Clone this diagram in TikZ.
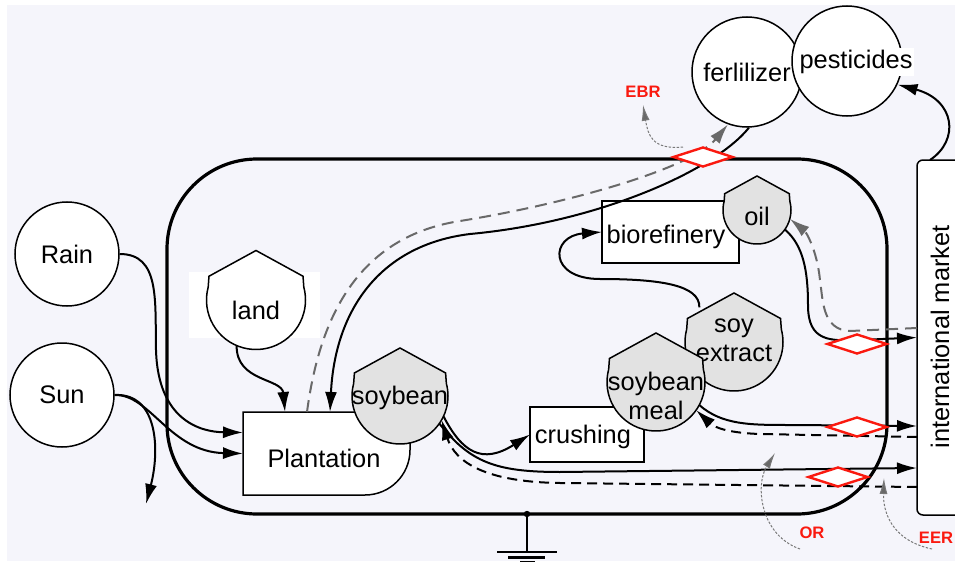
\documentclass[tikz,border=0pt]{standalone}
\usepackage{fontspec}
\setmainfont{Liberation Sans}
\usetikzlibrary{shapes,arrows.meta}
\definecolor{bgcol}{RGB}{245,245,251}
\definecolor{soygray}{RGB}{226,226,226}
\definecolor{dashgray}{RGB}{105,105,105}
\definecolor{regred}{RGB}{250,25,15}
\definecolor{hintgray}{RGB}{120,120,120}

\newcommand{\soyhouse}[6]{%
  \node[hull, minimum size=2*#3] (#1) at #2 {};
  \draw[houseline, fill=#4] ([yshift=#3]#1.center)
    -- ([xshift=-0.95*#3, yshift=0.48*#3]#1.center)
    -- (#1.165) arc[start angle=165, end angle=375, radius=#3]
    -- ([xshift=0.95*#3, yshift=0.48*#3]#1.center) -- cycle;
  \node[align=center] (#1-txt) at ([yshift=#6]#1.center) {#5};}

\begin{document}
\begin{tikzpicture}[x=0.5pt, y=-0.5pt,
    every node/.style={font=\fontsize{12.7}{14.5}\selectfont},
    ext/.style={circle, draw, fill=white, line width=0.75pt, inner sep=0pt},
    hull/.style={circle, inner sep=0pt, outer sep=0pt},
    houseline/.style={line width=0.75pt},
    procbox/.style={rectangle, draw, fill=white, line width=0.75pt, inner sep=0pt, outer sep=0pt},
    flow/.style={line width=1pt, -{Latex[length=10pt,width=6pt]}},
    cash/.style={flow, dash pattern=on 5pt off 3pt},
    greycash/.style={flow, draw=dashgray, dash pattern=on 6pt off 3.5pt},
    gate/.style={diamond, draw=regred, fill=white, line width=1.2pt, aspect=3, minimum width=30pt, minimum height=10pt, inner sep=0pt},
    tag/.style={font=\fontsize{8.3}{9}\selectfont\bfseries, text=regred},
    hint/.style={draw=hintgray, line width=0.5pt, dash pattern=on 1.2pt off 0.8pt, -{Latex[length=8pt,width=4pt,fill=dashgray]}}]
  \useasboundingbox (0,0) rectangle (955,562);
  \fill[bgcol] (7,5) rectangle (955,561);
  \draw[line width=1.6pt, rounded corners=45pt] (167,159) rectangle (887,514);
  \coordinate (gnd) at (527,514);
  \fill (gnd) circle (1.6pt);
  \draw[line width=1pt] (gnd) -- (527,552);
  \draw[line width=1.2pt] (497,552) -- (557,552) (508,557.5) -- (545,557.5) (520,562) -- (535,562);
  \fill[white] (189,272) rectangle (320,338);

  \node[ext, minimum size=52pt] (rain) at (67,254) {Rain};
  \node[ext, minimum size=52pt] (sun) at (62,395) {Sun};
  \node[ext, minimum size=55pt] (fert) at (747,72) {ferlilizer};
  \node[ext, minimum size=55pt] (pest) at (847,61) {};
  \node[fill=white, inner sep=1pt] (pest-txt) at (856,62) {pesticides};
  \node[procbox, rounded corners=3pt, minimum width=29pt, minimum height=177.5pt] (market) at (946,337.5) {};
  \node[rotate=90] (market-txt) at (940,337) {international market};

  \draw[houseline, fill=white] (243,412) -- (410,412) -- (410,450)
    arc[start angle=0, end angle=-90, radius=22.5pt] -- (243,495) -- cycle;
  \node[procbox, draw=none, fill=none, minimum width=83.5pt, minimum height=41.5pt] (plant) at (326.5,453.5) {};
  \node (plant-txt) at (324,458) {Plantation};
  \soyhouse{land}{(256,300)}{24.75pt}{white}{land}{-5pt}
  \node[procbox, minimum width=57pt, minimum height=27.5pt] (crushing) at (587,434.5) {};
  \node (crushing-txt) at (583,437) {crushing};
  \soyhouse{soybean}{(400,396)}{24pt}{soygray}{soybean}{-1pt}
  \node[procbox, minimum width=68.5pt, minimum height=31pt] (biorefinery) at (670.5,232) {};
  \node (biorefinery-txt) at (666,237) {biorefinery};
  \soyhouse{oil}{(757,210)}{17pt}{soygray}{oil}{-3pt}
  \soyhouse{extract}{(734,342)}{24.5pt}{soygray}{soy\\extract}{1pt}
  \soyhouse{meal}{(656,382)}{24.5pt}{soygray}{soybean\\meal}{-7pt}

  \coordinate (drain) at (146,504);
  \draw[flow] (rain.east) .. controls (160,254) and (155,300) .. (156,350)
    .. controls (158,420) and (200,432) .. ([yshift=10.5pt]plant.west);
  \draw[flow] (sun.east) .. controls (150,394) and (170,452) .. (plant.west);
  \draw[flow] (sun.east) .. controls (158,393) and (160,450) .. (drain);
  \draw[flow] (land.-113) .. controls (236,382) and (282,378) .. ([xshift=-20.75pt]plant.north);
  \draw[flow] (fert.-88) .. controls (715,170) and (600,222) .. (470,234)
    .. controls (380,245) and (335,310) .. ([xshift=1.75pt]plant.north);
  \draw[greycash] ([xshift=-9.75pt]plant.north) .. controls (318,330) and (350,238) .. (460,221)
    .. controls (560,205) and (690,170) .. (fert.-110);
  \draw[flow] (soybean.-25) .. controls (462,452) and (482,465) .. (crushing.west);
  \draw[flow] (soybean.-35) .. controls (470,462) and (495,472) .. (560,472) -- ([yshift=-65.25pt]market.west);
  \draw[cash] ([yshift=-74.75pt]market.west) -- (560,483) .. controls (485,482) and (455,462) .. (soybean.-30);
  \draw[flow] (meal.-28) .. controls (722,425) and (750,425) .. (790,425) -- ([yshift=-44.25pt]market.west);
  \draw[cash] ([yshift=-49.75pt]market.west) -- (760,434) .. controls (730,433) and (715,428) .. (meal.-35);
  \draw[flow] (oil.-35) .. controls (803,245) and (808,270) .. (808,305)
    .. controls (808,342) and (830,341) .. (860,340) -- (market.west);
  \draw[greycash] ([yshift=4.75pt]market.west) -- (850,331) .. controls (822,330) and (823,300) .. (820,280)
    .. controls (817,250) and (806,232) .. (oil.-15);
  \draw[flow] (extract.135) .. controls (700,285) and (660,279) .. (600,279)
    .. controls (548,279) and (550,236) .. (biorefinery.west);
  \draw[flow] ([xshift=-8pt]market.north) .. controls (960,140) and (955,100) .. (pest.-25);

  \node[gate] (ebrgate) at (703,157) {};
  \node[gate] (oilgate) at (857,344) {};
  \node[gate] (mealgate) at (857,427) {};
  \node[gate] (beangate) at (838,477) {};

  \node[tag] (ebr) at (643,92) {EBR};
  \node[tag] (orlbl) at (812,533) {OR};
  \node[tag] (eer) at (936,538) {EER};
  \coordinate (ebrfoot) at (683,147);
  \coordinate (orfoot) at (800,549);
  \coordinate (ortip) at (775,453);
  \coordinate (eerfoot) at (932,549);
  \coordinate (eertip) at (884,478);
  \draw[hint] (ebrfoot) .. controls (652,150) and (648,135) .. (ebr.south);
  \draw[hint] (orfoot) .. controls (760,535) and (755,485) .. (ortip);
  \draw[hint] (eerfoot) .. controls (890,540) and (883,510) .. (eertip);
\end{tikzpicture}
\end{document}
